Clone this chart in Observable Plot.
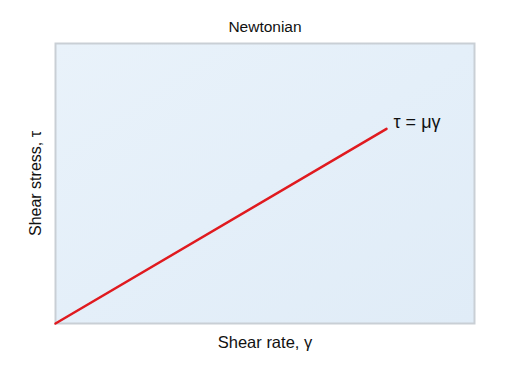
<!DOCTYPE html>
<html>
<head>
<meta charset="utf-8">
<script src="https://cdn.jsdelivr.net/npm/d3@7"></script>
<script src="https://cdn.jsdelivr.net/npm/@observablehq/plot@0.6"></script>
<style>
  html, body { margin: 0; padding: 0; background: #fff; }
  #chart { width: 508px; height: 372px; }
</style>
</head>
<body>
<div id="chart"></div>
<script>
const title = "Newtonian";
const xLabel = "Shear rate, γ";
const yLabel = "Shear stress, τ";
const equation = "τ = μγ";
const shearRate = [0, 7.9];
const shearStress = [0, 6.95];

const lineData = shearRate.map((x, i) => ({x, y: shearStress[i]}));
const endPoint = [lineData[lineData.length - 1]];

const font = "'Liberation Sans', Arial, Helvetica, sans-serif";

const chart = Plot.plot({
  width: 508,
  height: 372,
  marginLeft: 55,
  marginRight: 34,
  marginTop: 43,
  marginBottom: 49,
  style: {fontFamily: font, background: "#fff", overflow: "visible"},
  x: {domain: [0, 10], axis: null},
  y: {domain: [0, 10], axis: null},
  marks: [
    Plot.frame({fill: "url(#bgGrad)", stroke: "#c9cfd5", strokeWidth: 2}),
    Plot.line(lineData, {x: "x", y: "y", stroke: "#e01a1f", strokeWidth: 2.5}),
    Plot.text(endPoint, {x: "x", y: "y", text: () => equation, dx: 7, dy: -7, textAnchor: "start", lineAnchor: "middle", fontSize: 18, fill: "#111"}),
    Plot.text([title], {frameAnchor: "top", text: d => d, dy: -16, textAnchor: "middle", lineAnchor: "middle", fontSize: 15.5, fill: "#111"}),
    Plot.text([xLabel], {frameAnchor: "bottom", text: d => d, dy: 19, textAnchor: "middle", lineAnchor: "middle", fontSize: 16.5, fill: "#111"}),
    Plot.text([yLabel], {frameAnchor: "left", text: d => d, dx: -20, rotate: -90, textAnchor: "middle", lineAnchor: "middle", fontSize: 16, fill: "#111"})
  ]
});

const defs = d3.select(chart).insert("defs", ":first-child");
const grad = defs.append("linearGradient")
  .attr("id", "bgGrad").attr("x1", "0").attr("y1", "0").attr("x2", "1").attr("y2", "1");
grad.append("stop").attr("offset", "0%").attr("stop-color", "#e9f2fa");
grad.append("stop").attr("offset", "50%").attr("stop-color", "#e4eff9");
grad.append("stop").attr("offset", "100%").attr("stop-color", "#e0ecf7");

document.getElementById("chart").appendChild(chart);
</script>
</body>
</html>
